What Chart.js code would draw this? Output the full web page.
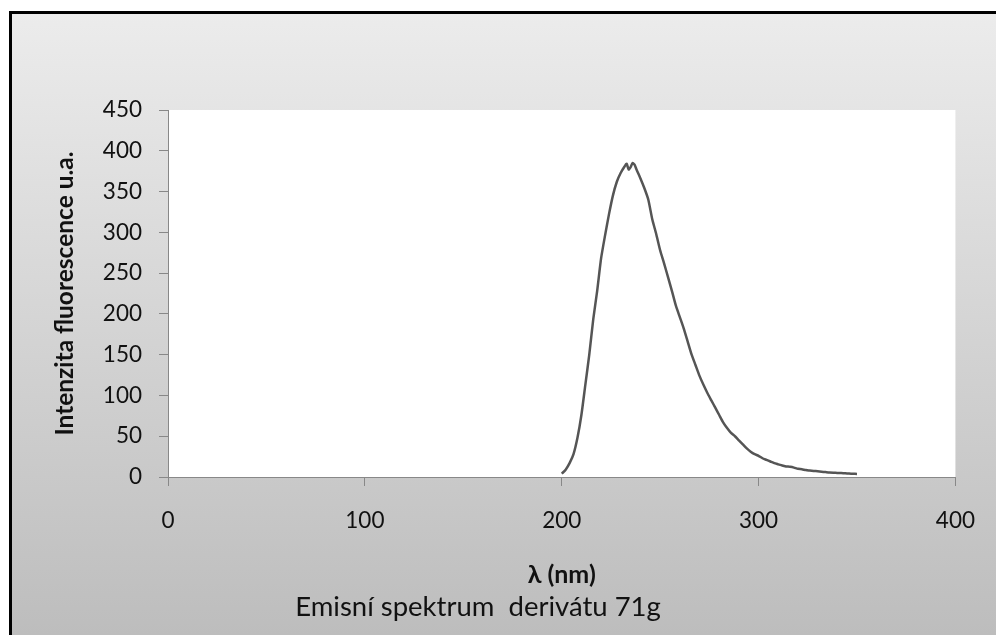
<!DOCTYPE html>
<html>
<head>
<meta charset="utf-8">
<script src="https://cdn.jsdelivr.net/npm/chart.js@4.4.1/dist/chart.umd.min.js"></script>
<style>
  html, body { margin: 0; padding: 0; background: #fff; }
  canvas { display: block; }
</style>
</head>
<body>
<canvas id="c" width="996" height="635"></canvas>
<script>
// Wavelength (nm)
const wavelengths = [200,202,204,206,208,210,212,214,216,218,220,222,224,226,228,230,232,233,234,235,236,237,238,240,242,244,246,248,250,252,254,256,258,260,262,264,266,268,270,272,274,276,278,280,282,284,286,288,290,292,294,296,298,300,302,304,306,308,310,312,314,316,318,320,322,324,326,328,330,332,334,336,338,340,342,344,346,348,350];
// Fluorescence intensity (a.u.)
const intensity = [4,9,17,28,48,76,113,150,193,228,268,296,322,345,362,373,381,384,377,380,385,383,377,366,354,340,316,298,278,262,245,228,210,196,182,166,150,137,124,113,103,94,85,76,67,60,54,50,45,40,35,31,28,26,23,21,19,17,15.5,14,13,12.5,11.5,10,9.5,8.5,8,7.5,7,6.5,6,5.5,5.2,5,4.8,4.5,4.2,4,3.8];
const xTicks = [0,100,200,300,400];
const yTicks = [0,50,100,150,200,250,300,350,400,450];

const FONT = 'Lato, "Open Sans", sans-serif';

const bgPlugin = {
  id: 'bg',
  beforeDraw(chart) {
    const {ctx, width, height, chartArea: a} = chart;
    ctx.save();
    ctx.fillStyle = '#fff';
    ctx.fillRect(0, 0, width, height);
    const g = ctx.createLinearGradient(0, 11, 0, height);
    g.addColorStop(0, '#ececec');
    g.addColorStop(1, '#bdbdbd');
    ctx.fillStyle = g;
    ctx.fillRect(9, 11, width - 9, height - 11);
    ctx.fillStyle = '#fff';
    ctx.fillRect(a.left, a.top, a.right - a.left, a.bottom - a.top);
    ctx.fillStyle = '#000';
    ctx.fillRect(9, 11, width - 9, 3);
    ctx.fillRect(9, 11, 3, height - 11);
    ctx.restore();
  }
};

const points = wavelengths.map((w, i) => ({x: w, y: intensity[i]}));

new Chart(document.getElementById('c'), {
  type: 'line',
  data: {
    datasets: [{
      data: points,
      borderColor: '#555555',
      borderWidth: 2.5,
      pointRadius: 0,
      tension: 0.2,
      fill: false
    }]
  },
  options: {
    responsive: false,
    animation: false,
    layout: { padding: { left: 0, right: 40, top: 110, bottom: 0 } },
    plugins: {
      legend: { display: false },
      tooltip: { enabled: false },
      title: {
        display: true,
        position: 'bottom',
        text: 'Emisní spektrum  derivátu 71g',
        color: '#111',
        font: { family: FONT, size: 27.5, weight: 'normal' },
        padding: { top: 0, bottom: 11.5 }
      }
    },
    scales: {
      x: {
        type: 'linear',
        min: 0, max: 400,
        afterBuildTicks(s) { s.ticks = xTicks.map(v => ({value: v})); },
        afterFit(s) { s.height = 635 - 477 - 44.5; },
        grid: { display: true, drawOnChartArea: false, drawTicks: true, tickLength: 9, color: '#888', lineWidth: 1 },
        border: { display: true, color: '#888', width: 1 },
        ticks: { color: '#111', padding: 21, font: { family: FONT, size: 22.5 }, maxRotation: 0 },
        title: {
          display: true,
          text: 'λ (nm)',
          color: '#111',
          font: { family: FONT, size: 25, weight: 'bold' },
          padding: { top: 0, bottom: 0.5 }
        }
      },
      y: {
        type: 'linear',
        min: 0, max: 450,
        afterBuildTicks(s) { s.ticks = yTicks.map(v => ({value: v})); },
        afterFit(s) { s.width = 168; },
        grid: { display: true, drawOnChartArea: false, drawTicks: true, tickLength: 9, color: '#888', lineWidth: 1 },
        border: { display: true, color: '#888', width: 1 },
        ticks: { color: '#111', padding: 17, font: { family: FONT, size: 22.5 } },
        title: {
          display: true,
          text: 'Intenzita fluorescence u.a.',
          color: '#111',
          font: { family: FONT, size: 24.5, weight: 'bold' },
          padding: { top: 50.3, bottom: 0 }
        }
      }
    }
  },
  plugins: [bgPlugin]
});
</script>
</body>
</html>
